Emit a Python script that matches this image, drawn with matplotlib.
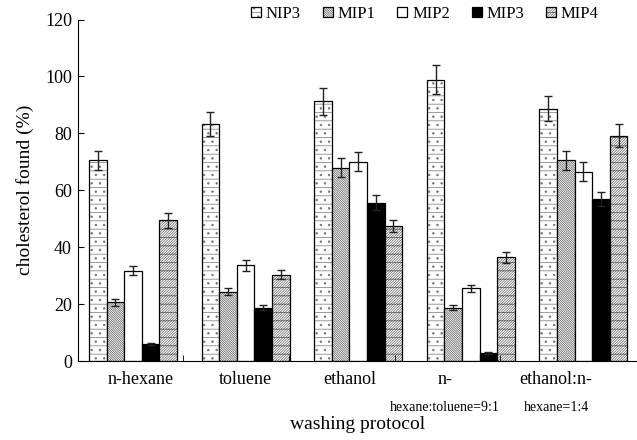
import matplotlib.pyplot as plt
import numpy as np

plt.rcParams['font.family'] = ['Liberation Serif', 'DejaVu Serif']
plt.rcParams['hatch.linewidth'] = 0.5

categories = ['n-hexane', 'toluene', 'ethanol', 'n-\nhexane:toluene=9:1', 'ethanol:n-\nhexane=1:4']
series = ['NIP3', 'MIP1', 'MIP2', 'MIP3', 'MIP4']
values = {
    'NIP3': [70.5, 83.2, 91.3, 98.8, 88.7],
    'MIP1': [20.6, 24.3, 68.0, 18.8, 70.5],
    'MIP2': [31.8, 33.6, 70.1, 25.5, 66.6],
    'MIP3': [6.0, 18.8, 55.7, 2.7, 57.0],
    'MIP4': [49.4, 30.4, 47.4, 36.4, 79.2],
}
errors = {
    'NIP3': [3.2, 4.2, 4.7, 5.1, 4.3],
    'MIP1': [1.1, 1.2, 3.3, 1.0, 3.3],
    'MIP2': [1.5, 1.8, 3.4, 1.2, 3.4],
    'MIP3': [0.4, 1.0, 2.7, 0.3, 2.5],
    'MIP4': [2.6, 1.6, 2.2, 1.9, 4.0],
}

styles = {
    'NIP3': dict(facecolor='white', hatch='--..', hc=(0.45, 0.45, 0.45, 1)),
    'MIP1': dict(facecolor='white', hatch='\\' * 15, hc=(0.35, 0.35, 0.35, 1)),
    'MIP2': dict(facecolor='white', hatch=None, hc=None),
    'MIP3': dict(facecolor='black', hatch=None, hc=None),
    'MIP4': dict(facecolor='white', hatch='/' * 13 + '--', hc=(0.4, 0.4, 0.4, 1)),
}

fig = plt.figure(figsize=(6.37, 4.40), dpi=100)
ax = fig.add_axes([0.1217, 0.1795, 0.8783, 0.776])

x = np.arange(len(categories))
w = 0.156
for i, s in enumerate(series):
    st = styles[s]
    bars = ax.bar(x + (i - 2) * w, values[s], w, facecolor=st['facecolor'],
                  edgecolor='black', linewidth=0.9, hatch=st['hatch'], label=s,
                  yerr=errors[s], capsize=3.2,
                  error_kw=dict(elinewidth=1, capthick=1, ecolor='#222222'))
    if st['hc']:
        for b in bars:
            b._hatch_color = st['hc']

ax.set_xlim(-0.493, 4.476)
ax.set_ylim(0, 120)
ax.set_yticks(range(0, 121, 20))
ax.tick_params(axis='y', direction='in', length=4, labelsize=13, pad=4)
ax.spines['top'].set_visible(False)
ax.spines['right'].set_visible(False)

# category boundary ticks and labels
bounds = [-0.493 + 0.9387 * k for k in range(1, 5)]
ax.set_xticks(bounds, minor=True)
ax.tick_params(axis='x', which='minor', direction='in', length=4)
label_x = [0.071, 0.995, 1.927, 2.771, 3.757]
ax.set_xticks(label_x)
ax.set_xticklabels([c.split('\n')[0] for c in categories], fontsize=13)
ax.tick_params(axis='x', which='major', length=0, pad=7)
for lx, c in zip(label_x, categories):
    parts = c.split('\n')
    if len(parts) > 1:
        ax.annotate(parts[1], (lx, 0), xycoords=('data', 'axes fraction'),
                    xytext=(0, -46), textcoords='offset pixels',
                    ha='center', va='center', fontsize=10)

ax.set_ylabel('cholesterol found (%)', fontsize=14, labelpad=8)
ax.set_xlabel('washing protocol', fontsize=14, labelpad=20)

fig.legend(loc='center', bbox_to_anchor=(0.667, 0.968), ncol=5, frameon=False,
           fontsize=12, handlelength=0.6, handleheight=0.6, handletextpad=0.3,
           columnspacing=1.3)

fig.savefig('out.png', dpi=100)
